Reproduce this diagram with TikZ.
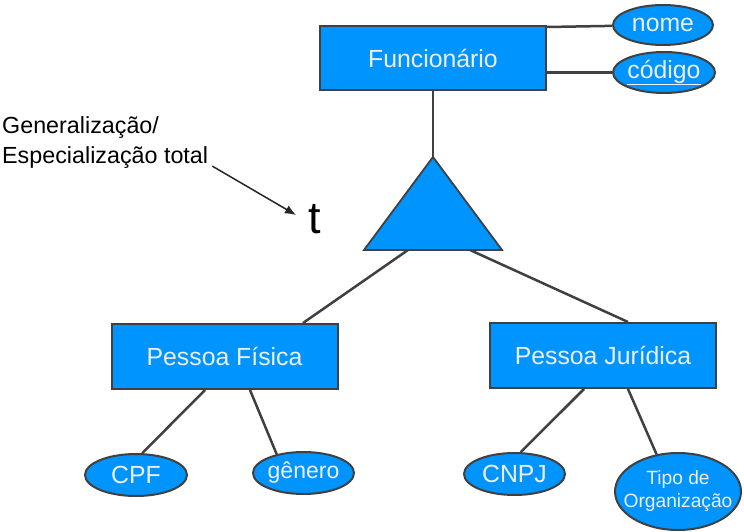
\documentclass[tikz,border=0pt]{standalone}
\usepackage{fontspec}
\setmainfont{Liberation Sans}
\usetikzlibrary{shapes.geometric,arrows.meta,calc}
\definecolor{erblue}{RGB}{0,148,255}
\definecolor{erline}{RGB}{64,64,64}
\definecolor{ertext}{RGB}{238,238,238}
\begin{document}
\begin{tikzpicture}[x=1pt,y=-1pt,
  entity/.style={draw=erline, line width=2pt, fill=erblue, text=ertext,
    minimum width=226pt, minimum height=65pt, inner sep=0pt,
    font=\fontsize{24.8}{29}\selectfont},
  attr/.style={ellipse, draw=erline, line width=2pt, fill=erblue, text=ertext,
    inner xsep=-3pt, inner ysep=0pt, font=\fontsize{24.8}{29}\selectfont},
  link/.style={draw=erline, line width=2.5pt}]
\useasboundingbox (0,0) rectangle (744,532);

% entities
\node[entity, minimum height=64pt] (func) at (433,58) {Funcionário};
\node[entity] (pf) at (224.5,356.5) {Pessoa Física};
\node[entity] (pj) at (603,355.5) {Pessoa Jurídica};

% attributes
\node[attr, minimum width=100pt, minimum height=40pt] (nome) at (663,25) {nome};
\node[attr, minimum width=102pt, minimum height=41pt] (cod) at (664,72.5) {\underline{código}};
\node[attr, minimum width=102pt, minimum height=42pt] (cpf) at (136,475) {CPF};
\node[attr, minimum width=101pt, minimum height=42pt, font=\fontsize{23}{27}\selectfont] (gen) at (303.5,473) {gênero};
\node[attr, minimum width=101pt, minimum height=42pt] (cnpj) at (514.5,474) {CNPJ};
\node[attr, minimum width=126pt, minimum height=77pt, align=center, inner xsep=-11pt,
  font=\fontsize{19.2}{23}\selectfont] (tipo) at (678,491.5) {Tipo de\\Organização};

% attribute links
\draw[link] ([yshift=-2pt]func.north east) -- (nome);
\draw[link] (func.east |- cod) -- (cod);
\draw[link] ([xshift=-19.5pt]pf.south) -- (cpf.74);
\draw[link] ([xshift=25.5pt]pf.south) -- (gen.145);
\draw[link] ([xshift=-19pt]pj.south) -- (cnpj.74);
\draw[link] ([xshift=25pt]pj.south) -- (tipo.120);

% specialization triangle
\coordinate (apex) at (433,157);
\coordinate (bl) at (364,250);
\coordinate (br) at (502,250);
\coordinate (bj1) at (408,250);
\coordinate (bj2) at (470,250);
\draw[link] (func.south) -- (apex);
\draw[link] (bj1) -- ([xshift=78.5pt]pf.north);
\draw[link] (bj2) -- ([xshift=25pt]pj.north);
\filldraw[fill=erblue, draw=erline, line width=1.8pt, line join=miter] (apex) -- (bl) -- (br) -- cycle;

% annotation
\node[anchor=base west, inner sep=0pt, align=left, font=\fontsize{23.3}{29}\selectfont] (ann) at (2,163) {Generalização/\\Especialização total};
\node[anchor=base, inner sep=0pt, font=\fontsize{45}{50}\selectfont] (t) at (315,233) {t};
\coordinate (arrtip) at (296,215);
\draw[-{Latex[length=11pt,width=9pt]}, line width=1.5pt, black!85] ([xshift=4pt,yshift=2pt]ann.south east) -- (arrtip);
\end{tikzpicture}
\end{document}
